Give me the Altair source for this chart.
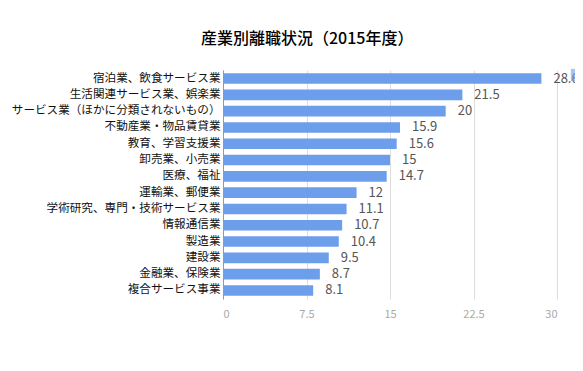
import altair as alt
import pandas as pd

industries = [
    "宿泊業、飲食サービス業",
    "生活関連サービス業、娯楽業",
    "サービス業（ほかに分類されないもの）",
    "不動産業・物品賃貸業",
    "教育、学習支援業",
    "卸売業、小売業",
    "医療、福祉",
    "運輸業、郵便業",
    "学術研究、専門・技術サービス業",
    "情報通信業",
    "製造業",
    "建設業",
    "金融業、保険業",
    "複合サービス事業",
]
rates = [28.6, 21.5, 20, 15.9, 15.6, 15, 14.7, 12, 11.1, 10.7, 10.4, 9.5, 8.7, 8.1]
rate_labels = ["28.6", "21.5", "20", "15.9", "15.6", "15", "14.7", "12", "11.1", "10.7", "10.4", "9.5", "8.7", "8.1"]
x_ticks = [0, 7.5, 15, 22.5, 30]
series_name = "離職率"

df = pd.DataFrame({
    "industry": industries,
    "rate": rates,
    "label": rate_labels,
    "series": [series_name] * len(industries),
})

FONT = "Noto Sans CJK JP"

y_enc = alt.Y(
    "industry:N",
    sort=industries,
    title=None,
    scale=alt.Scale(paddingInner=0.35, paddingOuter=0.2),
    axis=alt.Axis(
        ticks=False,
        labelPadding=3,
        labelFontSize=11.6,
        labelColor="#111111",
        labelFont=FONT,
        domainColor="#999999",
        labelLimit=400,
        grid=False,
    ),
)

x_enc = alt.X(
    "rate:Q",
    title=None,
    scale=alt.Scale(domain=[0, 30], nice=False),
    axis=alt.Axis(
        values=x_ticks,
        format=".1~f",
        grid=True,
        gridColor="#dddddd",
        domain=False,
        ticks=False,
        labelPadding=9,
        labelFontSize=11,
        labelColor="#aaaaaa",
        labelFont=FONT,
    ),
)

bars = alt.Chart(df).mark_bar().encode(
    x=x_enc,
    y=y_enc,
    color=alt.Color(
        "series:N",
        scale=alt.Scale(range=["#6d9eeb"]),
        legend=alt.Legend(
            title=None,
            orient="none",
            legendX=347,
            legendY=-2,
            padding=0,
            symbolType="square",
            symbolSize=150,
            symbolOpacity=0.6,
            labelExpr="''",
            labelFontSize=1,
        ),
    ),
)

texts = alt.Chart(df).mark_text(
    align="left", baseline="middle", dx=12, fontSize=13, color="#555555", font=FONT
).encode(
    x=alt.X("rate:Q"),
    y=alt.Y("industry:N", sort=industries),
    text="label:N",
)

chart = (
    alt.layer(bars, texts)
    .properties(
        width=334,
        height=229,
        autosize=alt.AutoSizeParams(type="none"),
        padding={"left": 215, "top": 62, "right": 18, "bottom": 50},
        title=alt.TitleParams(
            "産業別離職状況（2015年度）",
            anchor="start",
            frame="group",
            dx=-22,
            offset=21,
            fontSize=16,
            fontWeight=500,
            font=FONT,
            color="#000000",
        ),
    )
    .configure_view(stroke=None)
)

chart.save("out.html", embed_options={"renderer": "svg", "actions": False})
